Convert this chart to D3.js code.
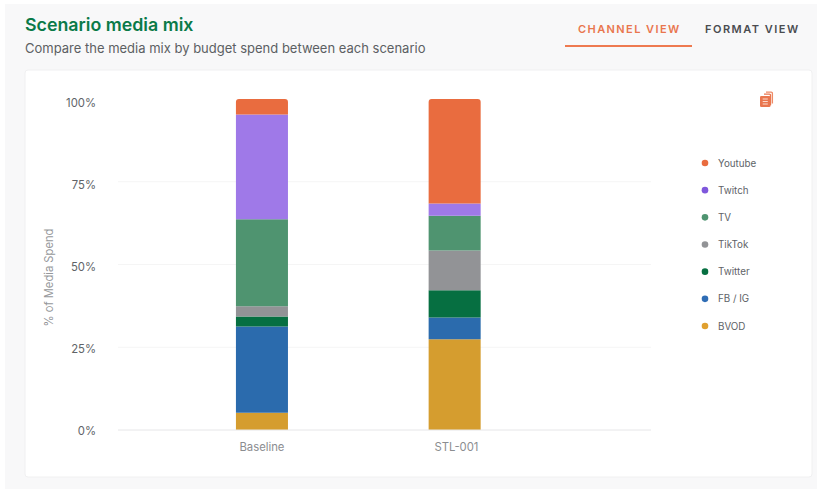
<!DOCTYPE html>
<html>
<head>
<meta charset="utf-8">
<script src="https://cdn.jsdelivr.net/npm/d3@7"></script>
<style>
html,body{margin:0;padding:0;background:#fff;}
svg{display:block;font-family:Inter,"Noto Sans",sans-serif;}
</style>
</head>
<body>
<svg id="chart" width="817" height="489"></svg>
<script>
// Share of media spend per scenario, in percent
const scenarios = ["Baseline", "STL-001"];
const channels = ["BVOD", "FB / IG", "Twitter", "TikTok", "TV", "Twitch", "Youtube"];
const bvod = [5.2, 27.4];
const fbIg = [26.1, 6.6];
const twitter = [3.0, 8.2];
const tiktok = [3.1, 12.0];
const tv = [26.3, 10.5];
const twitch = [31.6, 3.7];
const youtube = [4.7, 31.6];
const channelColors = ["#d59d2f", "#2b6bad", "#066f41", "#929396", "#4f9470", "#9f79e8", "#e96c3f"];
const legendDotColors = ["#e0a02f", "#2f6db5", "#066f41", "#929396", "#4f9470", "#7f57dc", "#e96c3f"];
const yTicks = [0, 25, 50, 75, 100];
const tabs = ["CHANNEL VIEW", "FORMAT VIEW"];

const seriesValues = [bvod, fbIg, twitter, tiktok, tv, twitch, youtube];
const rows = scenarios.map((name, i) => {
  const row = {scenario: name};
  channels.forEach((c, k) => { row[c] = seriesValues[k][i]; });
  return row;
});

const svg = d3.select("#chart");

// Page panel and white chart card
svg.append("rect").attr("x", 5).attr("y", 4).attr("width", 812).attr("height", 485).attr("fill", "#f8f8f9");
svg.append("rect").attr("x", 25).attr("y", 70).attr("width", 787).attr("height", 407)
  .attr("rx", 3).attr("fill", "#fff").attr("stroke", "#f0f0f1");

// Header
svg.append("text").attr("x", 25).attr("y", 31).attr("font-size", 17.8).attr("font-weight", 600)
  .attr("fill", "#0a7a48").text("Scenario media mix");
svg.append("text").attr("x", 25).attr("y", 53).attr("font-size", 13).attr("fill", "#5c5f63")
  .text("Compare the media mix by budget spend between each scenario");

// View tabs
svg.append("text").attr("x", 578).attr("y", 33).attr("font-size", 11).attr("font-weight", 600)
  .attr("letter-spacing", 1.42).attr("fill", "#e9764e").text(tabs[0]);
svg.append("text").attr("x", 705).attr("y", 33).attr("font-size", 11).attr("font-weight", 600)
  .attr("letter-spacing", 1.5).attr("fill", "#4a4c50").text(tabs[1]);
svg.append("rect").attr("x", 565).attr("y", 45).attr("width", 127).attr("height", 2).attr("fill", "#ee7a50");

// Scales
const x = d3.scaleBand().domain(scenarios).range([165.6, 551]).paddingInner(0.73).paddingOuter(0.365);
const y = d3.scaleLinear().domain([0, 100]).range([430, 99]);
// Tick labels sit on a slightly tighter spacing than the plot itself
const yLabel = d3.scaleLinear().domain([0, 100]).range([430.5, 103.3]);

// Grid lines
const gridLeft = 118, gridRight = 651;
svg.append("g").selectAll("line").data(yTicks.filter(t => t > 0 && t < 100)).join("line")
  .attr("x1", gridLeft).attr("x2", gridRight)
  .attr("y1", d => y(d)).attr("y2", d => y(d))
  .attr("stroke", "#f5f5f5");

// Stacked bars with the top segment's corners rounded
const stacked = d3.stack().keys(channels)(rows);
const topPath = (x0, x1, y0, y1, r) =>
  `M${x0},${y1}V${y0 + r}Q${x0},${y0} ${x0 + r},${y0}H${x1 - r}Q${x1},${y0} ${x1},${y0 + r}V${y1}Z`;

const layers = svg.append("g").selectAll("g").data(stacked).join("g")
  .attr("fill", (d, i) => channelColors[i]);
layers.selectAll("path").data(d => d.map(v => ({v, top: d.key === "Youtube"}))).join("path")
  .attr("d", ({v, top}) => {
    const x0 = x(v.data.scenario), x1 = x0 + x.bandwidth();
    return topPath(x0, x1, y(v[1]), y(v[0]), top ? 3 : 0);
  });

// Axes
const yAxis = svg.append("g").attr("transform", "translate(96,0)")
  .call(d3.axisLeft(yLabel).tickValues(yTicks).tickFormat(d => d + "%").tickSize(0).tickPadding(0));
yAxis.select(".domain").remove();
yAxis.selectAll("text").attr("font-family", "Inter,sans-serif").attr("font-size", 11.3).attr("fill", "#606367");

const xAxis = svg.append("g").attr("transform", "translate(0,430)")
  .call(d3.axisBottom(x).tickSize(0).tickPadding(13));
xAxis.select(".domain").remove();
xAxis.selectAll("text").attr("font-family", "Inter,sans-serif").attr("font-size", 11.3).attr("fill", "#8b8d90")
  .attr("dx", (d, i) => i === 1 ? 1.8 : 0);
svg.append("line").attr("x1", gridLeft).attr("x2", gridRight).attr("y1", y(0)).attr("y2", y(0))
  .attr("stroke", "#e6e6e8");

svg.append("text").attr("transform", "translate(53,277.5) rotate(-90)").attr("text-anchor", "middle")
  .attr("font-size", 11.2).attr("fill", "#96989b").text("% of Media Spend");

// Legend, listed from the top of the stack down
const legendY = d3.scalePoint().domain(channels.slice().reverse()).range([163, 326]);
const legend = svg.append("g").selectAll("g").data(channels).join("g")
  .attr("transform", d => `translate(705,${legendY(d)})`);
legend.append("circle").attr("r", 3.3).attr("fill", (d, i) => legendDotColors[i]);
legend.append("text").attr("x", 13).attr("y", 3.5).attr("font-size", 9.8).attr("fill", "#606367").text(d => d);

// Copy icon
const icon = svg.append("g").attr("transform", "translate(760,91)");
icon.append("path").attr("d", "M6,1.2h5.2a1.2,1.2 0 0 1 1.2,1.2v10").attr("fill", "none").attr("stroke", "#ee8a66").attr("stroke-width", 1.3);
icon.append("path").attr("d", "M4,3.2h5.5a1,1 0 0 1 1,1v10").attr("fill", "none").attr("stroke", "#e9764e").attr("stroke-width", 1.3);
icon.append("rect").attr("x", 0).attr("y", 5).attr("width", 10.5).attr("height", 11).attr("rx", 1.3).attr("fill", "#e9764e");
icon.selectAll("line").data([8, 10.5, 13]).join("line")
  .attr("x1", 2.7).attr("x2", 7.8).attr("y1", d => d).attr("y2", d => d)
  .attr("stroke", "#fbd9cc").attr("stroke-width", 1);
</script>
</body>
</html>
